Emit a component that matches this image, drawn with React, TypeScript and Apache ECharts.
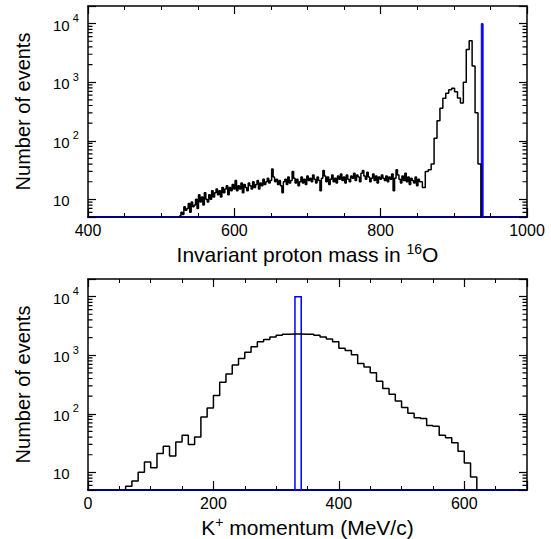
import React, { useEffect, useRef } from 'react';
import * as echarts from 'echarts';

// ---- data ----
// Invariant proton mass histogram: 2 MeV bins from 525 to 853 (continuum)
const massLowStart = 525;
const massLowWidth = 2;
const massLowCounts = [
  5.2, 6, 5.5, 7.5, 6.5, 7, 8.5, 6, 9, 7.5,
  8, 10, 7, 12, 9, 11, 8, 13, 10, 9,
  12, 10, 14, 11, 13, 15, 12, 14, 11, 16,
  13, 15, 17, 12, 16, 14, 18, 15, 21, 14,
  17, 15, 19, 13, 18, 16, 14, 19, 17, 15,
  20, 16, 18, 21, 15, 19, 17, 22, 18, 20,
  23, 19, 21, 33, 24, 20, 22, 18, 21, 17,
  13, 20, 22, 18, 24, 19, 21, 30, 23, 19,
  22, 17, 20, 24, 19, 22, 18, 25, 21, 23,
  20, 26, 22, 19, 24, 21, 14, 23, 31, 25,
  20, 24, 18, 22, 26, 20, 23, 19, 25, 22,
  27, 21, 24, 19, 26, 22, 20, 25, 23, 28,
  21, 26, 24, 20, 28, 31, 25, 22, 29, 24,
  20, 23, 27, 21, 25, 19, 24, 22, 26, 23,
  21, 25, 20, 24, 22, 27, 14, 23, 32, 26,
  22, 19, 25, 21, 28, 20, 24, 18, 23, 21,
  19, 24, 17, 22,
];
// 4 MeV bins from 853 to 937 (quasi-free peak region)
const massPeakStart = 853;
const massPeakWidth = 4;
const massPeakCounts = [
  20, 16, 30, 32, 40, 110, 220, 360, 530, 650,
  740, 790, 690, 540, 440, 1000, 3600, 5100, 1900, 300,
  40,
];
// Free-proton reference line (blue): [from, to, count]
const massSignal = [937.5, 940, 10000];

// K+ momentum histogram (10 MeV/c bins starting at 60)
const momBinStart = 60;
const momBinWidth = 10;
const momCounts = [
  5.8, 7.1, 10, 15, 12, 21, 28, 19, 33, 43,
  30, 40, 88, 126, 205, 345, 480, 680, 880, 1120,
  1390, 1690, 1860, 2050, 2190, 2280, 2300, 2300, 2280, 2280,
  2200, 2050, 1900, 1700, 1320, 1200, 1020, 720, 630, 500,
  360, 270, 215, 165, 128, 102, 86, 83, 63, 61,
  43, 39, 32, 23, 14.5, 8.3,
];
const momSignal = [330, 340, 10000];

const minorYTicks = [6, 7, 8, 9, 20, 30, 40, 50, 60, 70, 80, 90, 200, 300, 400, 500, 600, 700, 800, 900, 2000, 3000, 4000, 5000, 6000, 7000, 8000, 9000];
const yMin = 5;
const yMax = 20000;

const FLOOR = 0.1;
const FONT = 'Liberation Sans, Arial, Helvetica, sans-serif';
const NAVY = '#000080';

// half-filled symbols: the visible bar lies only on one side of the point
const TICK_RIGHT_HALF = 'path://M0,0 L0,1 Z M9,0 L18,0 L18,1 L9,1 Z';
const TICK_LEFT_HALF = 'path://M0,0 L9,0 L9,1 L0,1 Z M18,0 L18,1 Z';

function stepData(segments: [number, number, number[]][]) {
  const pts: number[][] = [[segments[0][0], FLOOR]];
  let last = 0;
  let end = 0;
  segments.forEach(([start, width, counts]) => {
    counts.forEach((c, i) => pts.push([start + i * width, c]));
    last = counts[counts.length - 1];
    end = start + counts.length * width;
  });
  pts.push([end, last]);
  pts.push([end, FLOOR]);
  return pts;
}

function logLabel(v: number) {
  const e = Math.log10(v);
  if (Math.abs(e - Math.round(e)) > 1e-6) return '';
  const n = Math.round(e);
  if (n === 1) return '{b|10}';
  return '{b|10}{s|' + n + '}';
}

const yRich = {
  b: { fontSize: 15, fontFamily: FONT, color: '#000', lineHeight: 18, verticalAlign: 'bottom' },
  s: { fontSize: 11, fontFamily: FONT, color: '#000', lineHeight: 11, padding: [0, 0, 9, 3], verticalAlign: 'bottom' },
};

function panel(gi: number, xMin: number, xMax: number, title: string) {
  const xAxes = [
    {
      gridIndex: gi, type: 'value', min: xMin, max: xMax, interval: 50, position: 'bottom',
      axisLine: { show: true, onZero: false, lineStyle: { color: NAVY, width: 2 } },
      axisTick: { show: true, inside: true, length: 4, lineStyle: { color: '#000', width: 1 } },
      axisLabel: {
        show: true, margin: 5, color: '#000', fontSize: 16, fontFamily: FONT,
        formatter: (v: number) => (Math.round(v) % 200 === 0 ? String(Math.round(v)) : ''),
      },
      splitLine: { show: false },
      name: title, nameLocation: 'middle', nameGap: 25,
      nameTextStyle: {
        fontSize: 21, fontFamily: FONT, color: '#000',
        rich: { s: { fontSize: 14, fontFamily: FONT, color: '#000', padding: [0, 0, 10, 0] } },
      },
    },
    {
      gridIndex: gi, type: 'value', min: xMin, max: xMax, interval: 200, position: 'bottom',
      axisLine: { show: false, onZero: false },
      axisTick: { show: true, inside: true, length: 9, lineStyle: { color: '#000', width: 1.2 } },
      axisLabel: { show: false }, splitLine: { show: false },
    },
    {
      gridIndex: gi, type: 'value', min: xMin, max: xMax, interval: 50, position: 'top',
      axisLine: { show: true, onZero: false, lineStyle: { color: '#000', width: 1.5 } },
      axisTick: { show: true, inside: true, length: 4, lineStyle: { color: '#000', width: 1 } },
      axisLabel: { show: false }, splitLine: { show: false },
    },
    {
      gridIndex: gi, type: 'value', min: xMin, max: xMax, interval: 200, position: 'top',
      axisLine: { show: false, onZero: false },
      axisTick: { show: true, inside: true, length: 8, lineStyle: { color: '#000', width: 1.2 } },
      axisLabel: { show: false }, splitLine: { show: false },
    },
  ];
  const yAxes = [
    {
      gridIndex: gi, type: 'log', logBase: 10, min: yMin, max: yMax, position: 'left',
      axisLine: { show: true, onZero: false, lineStyle: { color: '#000', width: 1.5 } },
      axisTick: { show: true, inside: true, length: 8, lineStyle: { color: '#000', width: 1.2 } },
      axisLabel: { show: true, align: 'left', margin: 35, formatter: logLabel, rich: yRich },
      splitLine: { show: false },
      name: 'Number of events', nameLocation: 'middle', nameGap: 55,
      nameTextStyle: { fontSize: 20, fontFamily: FONT, color: '#000' },
    },
    {
      gridIndex: gi, type: 'log', logBase: 10, min: yMin, max: yMax, position: 'right',
      axisLine: { show: true, onZero: false, lineStyle: { color: '#000', width: 1.5 } },
      axisTick: { show: true, inside: true, length: 8, lineStyle: { color: '#000', width: 1.2 } },
      axisLabel: { show: false }, splitLine: { show: false },
    },
  ];
  return { xAxes, yAxes, xIndex: gi * 4, yIndex: gi * 2 };
}

// minor log ticks: inward from the left frame (inward = 'right') or the right frame (inward = 'left')
function minorTickSeries(xIndex: number, yIndex: number, xEdge: number, inwardRight: boolean) {
  return {
    type: 'scatter', xAxisIndex: xIndex, yAxisIndex: yIndex,
    symbol: inwardRight ? TICK_RIGHT_HALF : TICK_LEFT_HALF,
    symbolSize: [9, 1.2],
    symbolKeepAspect: false,
    itemStyle: { color: '#000', opacity: 1 },
    emphasis: { disabled: true },
    data: minorYTicks.map((v) => [xEdge, v]),
  };
}

function signalSeries(xIndex: number, yIndex: number, sig: number[], filled: boolean) {
  return {
    type: 'custom', xAxisIndex: xIndex, yAxisIndex: yIndex, silent: true,
    data: [sig],
    encode: { x: [0, 1], y: 2 },
    renderItem: (params: any, api: any) => {
      const cs = params.coordSys;
      const p0 = api.coord([api.value(0), api.value(2)]);
      const p1 = api.coord([api.value(1), api.value(2)]);
      const bottom = cs.y + cs.height;
      return {
        type: 'rect',
        shape: { x: p0[0], y: p0[1], width: p1[0] - p0[0], height: bottom - p0[1] },
        style: filled
          ? { fill: '#0000ff', stroke: '#0000ff', lineWidth: 1 }
          : { fill: 'none', stroke: '#0000ff', lineWidth: 1.5 },
      };
    },
  };
}

export default function App() {
  const ref = useRef<HTMLDivElement>(null);
  useEffect(() => {
    if (!ref.current) return;
    const chart = echarts.init(ref.current, undefined, { renderer: 'svg' });
    const p0 = panel(0, 400, 1000, 'Invariant proton mass in {s|16}O');
    const p1 = panel(1, 0, 700, 'K{s|+} momentum (MeV/c)');
    chart.setOption({
      animation: false,
      backgroundColor: '#fff',
      grid: [
        { left: 88, top: 6, width: 439, height: 211 },
        { left: 88, top: 279, width: 439, height: 211 },
      ],
      xAxis: [...p0.xAxes, ...p1.xAxes],
      yAxis: [...p0.yAxes, ...p1.yAxes],
      series: [
        signalSeries(p0.xIndex, p0.yIndex, massSignal, true),
        {
          type: 'line', xAxisIndex: p0.xIndex, yAxisIndex: p0.yIndex, step: 'end', showSymbol: false,
          symbol: 'none', clip: true, silent: true,
          lineStyle: { color: '#000', width: 1.5 },
          data: stepData([
            [massLowStart, massLowWidth, massLowCounts],
            [massPeakStart, massPeakWidth, massPeakCounts],
          ]),
        },
        {
          type: 'line', xAxisIndex: p1.xIndex, yAxisIndex: p1.yIndex, step: 'end', showSymbol: false,
          symbol: 'none', clip: true, silent: true,
          lineStyle: { color: '#000', width: 1.5 },
          data: stepData([[momBinStart, momBinWidth, momCounts]]),
        },
        signalSeries(p1.xIndex, p1.yIndex, momSignal, false),
        minorTickSeries(p0.xIndex, p0.yIndex, 400, true),
        minorTickSeries(p0.xIndex, p0.yIndex, 1000, false),
        minorTickSeries(p1.xIndex, p1.yIndex, 0, true),
        minorTickSeries(p1.xIndex, p1.yIndex, 700, false),
      ],
    });
    return () => chart.dispose();
  }, []);
  return <div ref={ref} style={{ position: 'absolute', left: 0, top: 0, width: 551, height: 539 }} />;
}
